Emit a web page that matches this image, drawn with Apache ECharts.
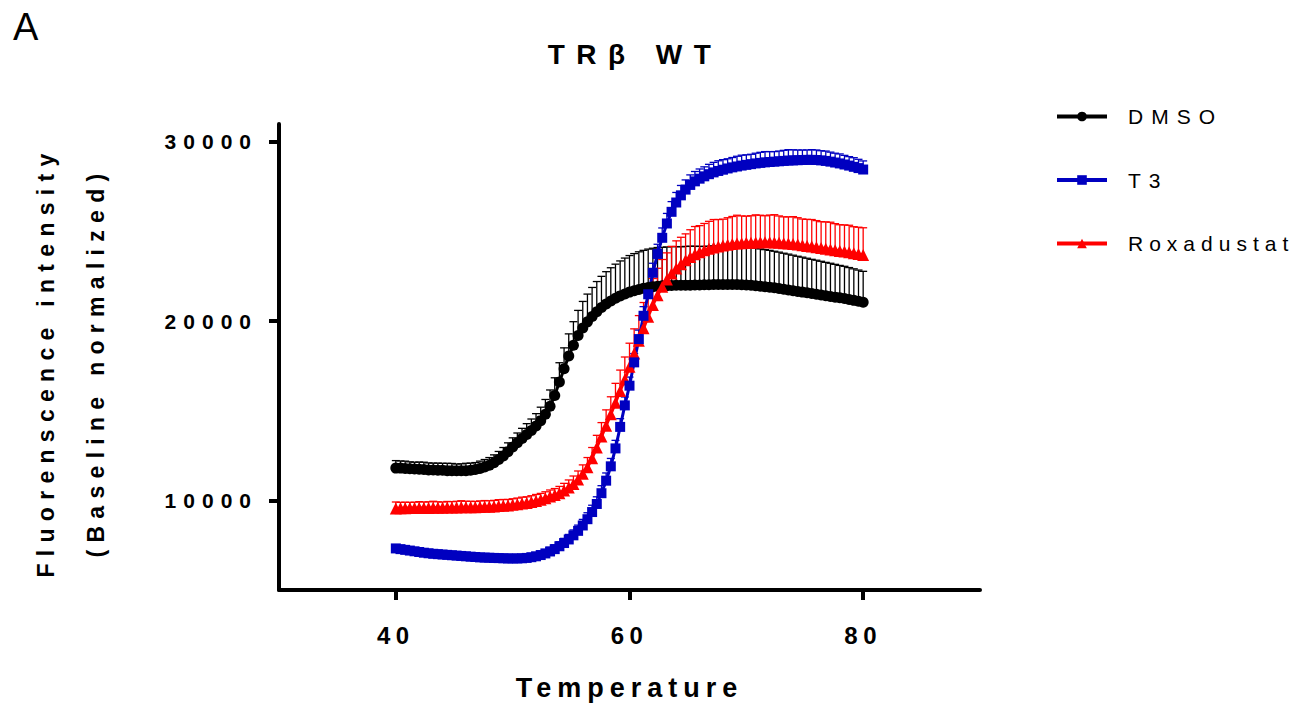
<!DOCTYPE html>
<html><head><meta charset="utf-8">
<script src="https://cdn.jsdelivr.net/npm/echarts@6/dist/echarts.min.js"></script>
<style>html,body{margin:0;padding:0;background:#fff}#chart{width:1296px;height:704px}</style>
</head><body><div id="chart"></div>
<script>
// ---- data ----
const panelLabel = 'A';
const chartTitle = 'TRβ WT';
const xAxisName = 'Temperature';
const yAxisName = 'Fluorenscence intensity\n(Baseline normalized)';
const seriesNames = ['DMSO', 'T3', 'Roxadustat'];
const xTicks = [40, 60, 80];
const yTicks = [10000, 20000, 30000];
const tStart = 40, tStep = 0.4;

const dmso = [11800,11800,11780,11760,11750,11740,11720,11700,11700,11680,11680,11660,11660,11650,11650,11660,11680,11720,11780,11860,
11960,12100,12280,12480,12720,12980,13220,13450,13680,13900,14150,14450,14800,15250,15850,16600,17350,18050,18650,19200,
19620,19960,20260,20530,20760,20960,21130,21280,21410,21520,21620,21700,21770,21830,21880,21920,21950,21970,21980,21990,
22000,22000,22010,22010,22020,22020,22030,22030,22040,22040,22050,22050,22050,22040,22030,22020,22000,21980,21950,21920,
21890,21860,21820,21780,21740,21700,21660,21620,21580,21540,21500,21460,21420,21380,21340,21300,21260,21210,21160,21110,21060];
const dmsoErr = [420,400,410,390,380,400,410,390,380,400,390,410,400,380,390,410,400,390,410,420,
430,440,450,470,490,510,540,570,600,640,690,750,830,910,990,1080,1160,1240,1320,1400,
1480,1550,1620,1680,1740,1800,1850,1900,1950,2000,2040,2070,2100,2120,2140,2150,2160,2150,2160,2170,
2160,2150,2160,2170,2160,2150,2140,2150,2160,2150,2140,2130,2140,2130,2120,2110,2100,2090,2080,2070,
2060,2040,2030,2010,2000,1980,1960,1950,1930,1910,1900,1880,1860,1850,1830,1810,1800,1780,1760,1740,1720];

const t3 = [7320,7280,7240,7200,7160,7120,7080,7050,7020,7000,6980,6960,6940,6920,6900,6880,6860,6840,6820,6810,
6800,6790,6780,6770,6760,6760,6760,6770,6790,6830,6880,6950,7040,7150,7280,7440,7620,7820,8050,8300,
8600,8950,9350,9800,10400,11100,11900,12900,14100,15300,16400,17700,19000,20300,21500,22700,23750,24650,25450,26100,
26620,27020,27340,27600,27800,27950,28080,28200,28300,28380,28450,28520,28580,28630,28680,28720,28760,28800,28830,28860,
28880,28900,28920,28940,28960,28970,28980,28990,29000,29000,28990,28970,28940,28900,28850,28800,28740,28680,28610,28540,28460];
const t3Err = [200,190,200,210,190,200,200,190,200,210,200,190,200,200,190,200,210,200,190,200,
200,190,200,210,200,190,200,200,210,200,210,220,220,230,240,250,260,280,300,320,
340,360,380,400,420,430,440,450,460,470,480,490,500,510,520,530,540,550,560,570,
560,550,540,560,550,540,530,550,560,570,560,540,550,570,580,560,550,570,590,600,
580,560,570,590,610,590,570,560,550,570,560,540,550,530,520,530,510,500,510,490,480];

const roxa = [9550,9560,9560,9570,9570,9580,9580,9580,9590,9590,9590,9600,9600,9600,9610,9610,9620,9620,9630,9640,
9650,9660,9680,9700,9720,9750,9780,9820,9860,9910,9970,10040,10120,10210,10300,10400,10550,10720,10920,11170,
11480,11850,12350,12950,13560,14170,14800,15450,16100,16750,17450,18200,18900,19600,20250,20900,21450,21920,22320,22660,
22940,23180,23400,23580,23730,23850,23950,24040,24110,24170,24220,24260,24300,24330,24350,24370,24380,24390,24400,24400,
24400,24390,24370,24350,24330,24300,24270,24240,24200,24160,24120,24080,24040,24000,23960,23920,23880,23840,23790,23740,23690];
const roxaErr = [360,330,340,320,330,350,330,340,360,330,320,340,330,350,370,340,330,320,340,350,
330,340,360,350,330,340,350,360,340,350,360,350,360,370,360,380,400,420,440,470,
500,540,600,680,780,880,980,1080,1170,1250,1320,1370,1410,1440,1460,1480,1500,1520,1490,1510,
1540,1500,1470,1520,1550,1480,1500,1530,1560,1500,1470,1510,1540,1580,1520,1490,1500,1540,1510,1480,
1520,1550,1500,1470,1490,1530,1500,1460,1480,1510,1490,1470,1500,1520,1480,1460,1490,1510,1480,1500,1520];

const temps = dmso.map((_, i) => +(tStart + tStep * i).toFixed(1));

// ---- chart ----
const FONT = '"Liberation Sans", Arial, Helvetica, sans-serif';
const colors = { DMSO: '#000000', T3: '#0000c0', Roxadustat: '#ff0000' };
const symbols = { DMSO: 'circle', T3: 'rect', Roxadustat: 'triangle' };
const symSizes = { DMSO: 11, T3: 10, Roxadustat: 12 };

function errSeries(name, vals, errs, color) {
  return {
    type: 'custom', name: name + ' SEM', silent: true, clip: false,
    data: temps.map((t, i) => [t, vals[i], vals[i] + errs[i]]),
    encode: { x: 0, y: [1, 2] },
    renderItem: function (params, api) {
      const p = api.coord([api.value(0), api.value(1)]);
      const q = api.coord([api.value(0), api.value(2)]);
      const w = 8;
      return {
        type: 'group', children: [
          { type: 'line', shape: { x1: p[0], y1: p[1], x2: q[0], y2: q[1] }, style: { stroke: color, lineWidth: 1.3 } },
          { type: 'line', shape: { x1: q[0] - w / 2, y1: q[1], x2: q[0] + w / 2, y2: q[1] }, style: { stroke: color, lineWidth: 1.3 } }
        ]
      };
    }
  };
}
function lineSeries(name, vals) {
  return {
    type: 'line', name: name, data: temps.map((t, i) => [t, vals[i]]),
    symbol: symbols[name], symbolSize: symSizes[name], showSymbol: true, showAllSymbol: true,
    itemStyle: { color: colors[name] }, lineStyle: { color: colors[name], width: 3 },
    emphasis: { disabled: true }, clip: false
  };
}
const valsByName = { DMSO: [dmso, dmsoErr], T3: [t3, t3Err], Roxadustat: [roxa, roxaErr] };
const series = [];
['DMSO', 'Roxadustat', 'T3'].forEach(n => {
  series.push(errSeries(n, valsByName[n][0], valsByName[n][1], colors[n]));
  series.push(lineSeries(n, valsByName[n][0]));
});

const chart = echarts.init(document.getElementById('chart'), null, { renderer: 'svg' });
chart.setOption({
  animation: false,
  backgroundColor: '#ffffff',
  title: [
    { text: chartTitle, left: 630, top: 35, textAlign: 'center',
      textStyle: { fontFamily: FONT, fontSize: 28, fontWeight: 'bold', color: '#000' } },
    { text: panelLabel, left: 8, top: 3,
      textStyle: { fontFamily: FONT, fontSize: 38, fontWeight: 'normal', color: '#000' } }
  ],
  legend: {
    data: seriesNames, orient: 'vertical', left: 1050, top: 101,
    itemWidth: 50, itemHeight: 12, itemGap: 42.5, selectedMode: false,
    lineStyle: { width: 4 },
    textStyle: { fontFamily: FONT, fontSize: 21, color: '#000', padding: [0, 0, 0, 16] }
  },
  grid: { left: 279, right: 316, top: 124, bottom: 114, containLabel: false, outerBoundsMode: 'none' },
  xAxis: {
    type: 'value', min: 30, max: 90,
    name: xAxisName, nameLocation: 'middle', nameGap: 84,
    nameTextStyle: { fontFamily: FONT, fontSize: 27, fontWeight: 'bold', color: '#000' },
    axisLine: { onZero: false, lineStyle: { color: '#000', width: 4 } },
    axisTick: { show: true, length: 10, lineStyle: { color: '#000', width: 4 }, customValues: xTicks },
    axisLabel: { customValues: xTicks, margin: 33, fontFamily: FONT, fontSize: 24, fontWeight: 'bold', color: '#000',
      formatter: v => String(v) },
    splitLine: { show: false }
  },
  yAxis: {
    type: 'value', min: 5000, max: 31000,
    name: yAxisName, nameLocation: 'middle', nameRotate: 90, nameGap: 158,
    nameTextStyle: { fontFamily: FONT, fontSize: 23, fontWeight: 'bold', color: '#000', lineHeight: 50,
      padding: [0, 10, 0, 0] },
    axisLine: { show: true, onZero: false, lineStyle: { color: '#000', width: 4 } },
    axisTick: { show: true, length: 10, lineStyle: { color: '#000', width: 4 }, customValues: yTicks },
    axisLabel: { customValues: yTicks, margin: 21, fontFamily: FONT, fontSize: 21, fontWeight: 'bold', color: '#000',
      padding: [6, 0, 0, 0], formatter: v => String(v) },
    splitLine: { show: false }
  },
  series: series
});

// letter spacing like the original figure
const spacing = {
  'TRβ WT': 11.5, 'DMSO': 8, 'T3': 8, 'Roxadustat': 6, 'Temperature': 6,
  '10000': 7, '20000': 7, '30000': 7, '40': 5.5, '60': 5.5, '80': 5.5,
  'Fluorenscence intensity': 7.3, '(Baseline normalized)': 7.3
};
function applySpacing() {
  document.querySelectorAll('#chart svg text').forEach(el => {
    const s = spacing[el.textContent.trim()];
    if (s != null) el.style.letterSpacing = s + 'px';
  });
}
applySpacing();
chart.on('finished', applySpacing);
</script></body></html>
